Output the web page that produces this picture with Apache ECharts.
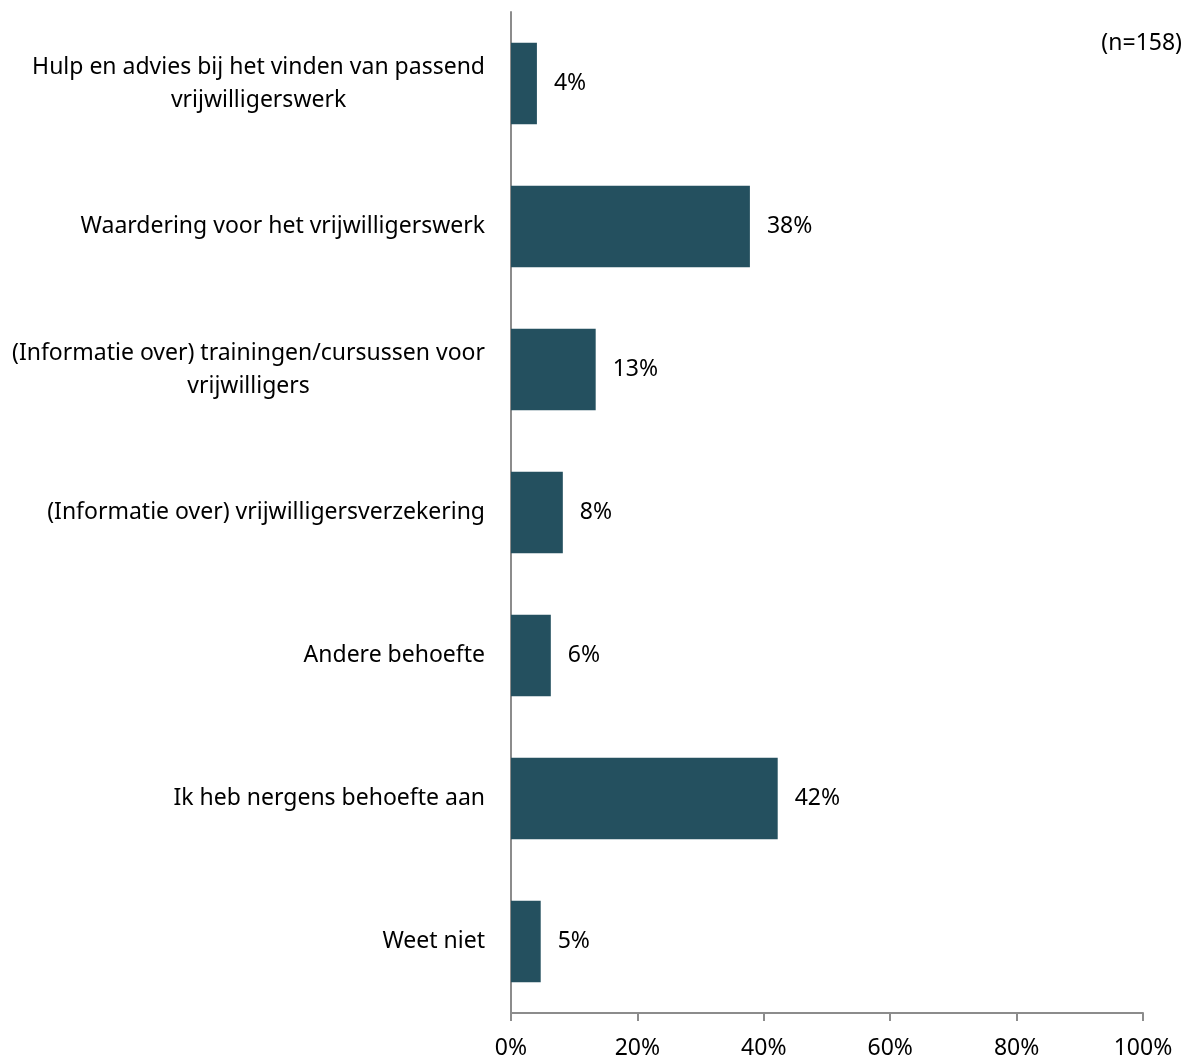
<!DOCTYPE html>
<html><head><meta charset="utf-8">
<script src="https://cdn.jsdelivr.net/npm/echarts@6/dist/echarts.min.js"></script>
<style>html,body{margin:0;padding:0;background:#fff}#c{width:1186px;height:1060px}</style>
</head><body><div id="c"></div>
<script>
const categories = [
  "Hulp en advies bij het vinden van passend\nvrijwilligerswerk",
  "Waardering voor het vrijwilligerswerk",
  "(Informatie over) trainingen/cursussen voor\nvrijwilligers",
  "(Informatie over) vrijwilligersverzekering",
  "Andere behoefte",
  "Ik heb nergens behoefte aan",
  "Weet niet"
];
const values = [4.1, 37.8, 13.4, 8.2, 6.3, 42.2, 4.7];
const valueLabels = ["4%", "38%", "13%", "8%", "6%", "42%", "5%"];
const xTicks = [0, 20, 40, 60, 80, 100];
const note = "(n=158)";

const FONT = "Noto Sans";
const FS = 23;
const chart = echarts.init(document.getElementById('c'));
chart.setOption({
  animation: false,
  grid: {left: 511, right: 43, top: 12, bottom: 46, containLabel: false},
  graphic: [{type: 'text', right: 4, top: 32, style: {text: note, font: FS + 'px "' + FONT + '"', fill: '#000'}}],
  xAxis: {
    type: 'value', min: 0, max: 100, interval: 20,
    axisLine: {show: true, lineStyle: {color: '#8c8c8c', width: 2}},
    axisTick: {show: true, length: 8, lineStyle: {color: '#8c8c8c', width: 2}},
    splitLine: {show: false},
    axisLabel: {margin: 24, color: '#000', fontFamily: FONT, fontSize: FS,
      formatter: v => xTicks.indexOf(v) >= 0 ? v + '%' : ''}
  },
  yAxis: {
    type: 'category', inverse: true, data: categories,
    axisLine: {show: true, lineStyle: {color: '#8c8c8c', width: 2}},
    axisTick: {show: false},
    axisLabel: {margin: 26, align: 'right', color: '#000', fontFamily: FONT, fontSize: FS, lineHeight: 33,
      formatter: v => v.split('\n').map(s => '{c|' + s + '}').join('\n'),
      rich: {c: {align: 'center', fontFamily: FONT, fontSize: FS, lineHeight: 33, color: '#000'}}}
  },
  series: [{
    type: 'bar', data: values, barCategoryGap: '43%',
    itemStyle: {color: '#24505F'},
    label: {show: true, position: 'right', distance: 17, color: '#000', fontFamily: FONT, fontSize: FS,
      formatter: p => valueLabels[p.dataIndex]}
  }]
});
</script></body></html>
